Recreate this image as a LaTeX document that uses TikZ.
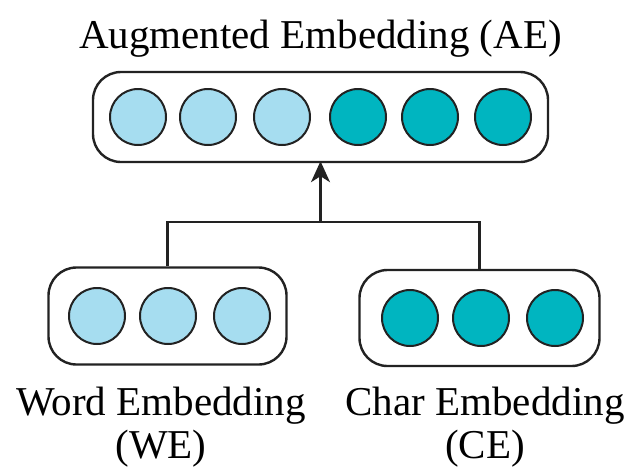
\documentclass[tikz,border=0pt]{standalone}
\usepackage{fontspec}
\setmainfont{Liberation Serif}
\usetikzlibrary{arrows.meta}
\definecolor{lightc}{RGB}{166,221,240}
\definecolor{tealc}{RGB}{0,181,192}
\definecolor{edge}{RGB}{34,34,34}
\begin{document}
\begin{tikzpicture}[x=1pt,y=-1pt,
  unit/.style={circle,draw=edge,line width=2pt,minimum size=56pt,inner sep=0pt},
  lu/.style={unit,fill=lightc},
  tu/.style={unit,fill=tealc},
  vec/.style={draw=edge,line width=2.4pt,rounded corners=28pt,inner sep=0pt},
  conn/.style={draw=edge,line width=2.2pt},
  lbl/.style={font=\fontsize{41}{44}\selectfont,align=center,inner sep=0pt}]
\useasboundingbox (0,0) rectangle (631,469);
% top vector
\node[vec,minimum width=455pt,minimum height=90pt] (ae) at (320.5,117) {};
\node[lu] (a1) at (138,117) {};
\node[lu] (a2) at (208,117) {};
\node[lu] (a3) at (282,117) {};
\node[tu] (a4) at (358,117) {};
\node[tu] (a5) at (430,117) {};
\node[tu] (a6) at (503,117) {};
% word embedding
\node[vec,minimum width=238pt,minimum height=97pt] (we) at (167.5,316) {};
\node[lu] (w1) at (97,316) {};
\node[lu] (w2) at (168,316) {};
\node[lu] (w3) at (242,316) {};
% char embedding
\node[vec,minimum width=240pt,minimum height=96pt] (ce) at (479.5,318) {};
\node[tu] (c1) at (410,318) {};
\node[tu] (c2) at (481,318) {};
\node[tu] (c3) at (555,318) {};
% connectors
\coordinate (joint) at (320.5,222);
\draw[conn] (we.north) |- (joint);
\draw[conn] (ce.north) |- (joint);
\draw[conn,-{Stealth[length=21pt,width=19pt,inset=6pt]}] (joint) -- ([yshift=2pt]ae.south);
% labels
\node[lbl,anchor=base] (tae) at (320.5,48) {Augmented Embedding (AE)};
\node[lbl,anchor=base] (twe) at (161,415) {Word Embedding};
\node[lbl,anchor=base] (twe2) at (161,458) {(WE)};
\node[lbl,anchor=base] (tce) at (485,415) {Char Embedding};
\node[lbl,anchor=base] (tce2) at (485,458) {(CE)};
\end{tikzpicture}
\end{document}
